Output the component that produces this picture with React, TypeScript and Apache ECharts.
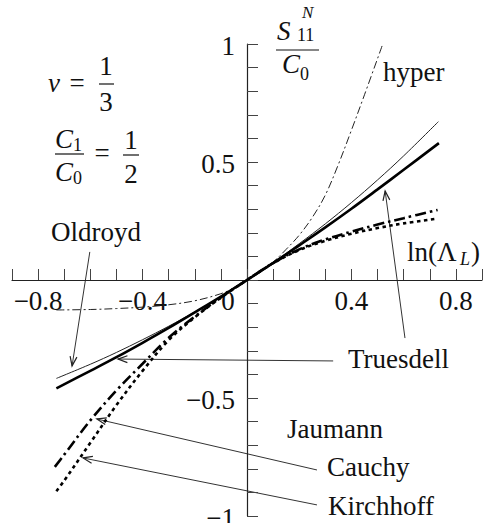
import React, { useEffect, useRef } from 'react';
import * as echarts from 'echarts';

const FONT = '"Liberation Serif", "Times New Roman", serif';
const INK = '#111';

// Axis tick labels
const xTickValues = [-0.8, -0.4, 0, 0.4, 0.8];
const xTickLabels = ['−0.8', '−0.4', '0', '0.4', '0.8'];
const yTickValues = [-1, -0.5, 0.5, 1];
const yTickLabels = ['−1', '−0.5', '0.5', '1'];

// Oldroyd rate (thin solid)
const oldroydX = [-0.73, -0.6, -0.5, -0.4, -0.3, -0.2, -0.1, 0, 0.1, 0.2, 0.3, 0.4, 0.5, 0.6, 0.733];
const oldroydY = [-0.417, -0.357, -0.307, -0.253, -0.196, -0.135, -0.07, 0, 0.074, 0.154, 0.238, 0.328, 0.424, 0.526, 0.671];

// Truesdell rate (thick solid)
const truesdellX = [-0.73, -0.6, -0.5, -0.4, -0.3, -0.2, -0.1, 0, 0.1, 0.2, 0.3, 0.4, 0.5, 0.6, 0.735];
const truesdellY = [-0.459, -0.385, -0.327, -0.266, -0.203, -0.137, -0.07, 0, 0.072, 0.147, 0.223, 0.302, 0.384, 0.467, 0.58];

// Hyperelastic reference (thin dash-dot)
const hyperX = [-0.73, -0.6, -0.5, -0.4, -0.3, -0.2, -0.1, -0.05, 0, 0.05, 0.1, 0.15, 0.2, 0.25, 0.3, 0.35, 0.4, 0.45, 0.52];
const hyperY = [-0.127, -0.125, -0.121, -0.115, -0.105, -0.088, -0.058, -0.033, 0, 0.037, 0.076, 0.13, 0.19, 0.265, 0.36, 0.49, 0.635, 0.785, 1.0];

// Cauchy stress (thick dash-dot)
const cauchyX = [-0.736, -0.7, -0.6, -0.5, -0.4, -0.3, -0.2, -0.1, 0, 0.1, 0.2, 0.3, 0.4, 0.5, 0.6, 0.73];
const cauchyY = [-0.792, -0.74, -0.595, -0.468, -0.355, -0.245, -0.155, -0.074, 0, 0.072, 0.13, 0.172, 0.205, 0.235, 0.262, 0.297];

// Kirchhoff stress (thick dotted)
const kirchhoffX = [-0.73, -0.7, -0.6, -0.5, -0.4, -0.3, -0.2, -0.1, 0, 0.1, 0.2, 0.3, 0.4, 0.5, 0.6, 0.73];
const kirchhoffY = [-0.895, -0.85, -0.69, -0.53, -0.385, -0.255, -0.158, -0.075, 0, 0.071, 0.127, 0.166, 0.196, 0.22, 0.24, 0.26];

// Annotation arrows: [tail, head] in data coordinates
const arrowNames = ['Oldroyd', 'Truesdell', 'Truesdell', 'Cauchy', 'Kirchhoff'];
const arrowTails = [[-0.602, 0.119], [0.605, -0.246], [0.33, -0.343], [0.268, -0.805], [0.268, -0.953]];
const arrowHeads = [[-0.67, -0.364], [0.529, 0.377], [-0.494, -0.335], [-0.575, -0.589], [-0.628, -0.754]];

const pairs = (xs: number[], ys: number[]) => xs.map((x, i) => [x, ys[i]]);

function txt(x: number, y: number, text: string, size = 27, italic = false, align = 'left') {
  return {
    type: 'text',
    x,
    y,
    silent: true,
    style: {
      text,
      fill: INK,
      fontSize: size,
      fontFamily: FONT,
      fontStyle: italic ? 'italic' : 'normal',
      textAlign: align,
      textVerticalAlign: 'middle',
      align,
      verticalAlign: 'middle',
    },
  };
}

function bar(x1: number, x2: number, y: number) {
  return {
    type: 'line',
    silent: true,
    shape: { x1, y1: y, x2, y2: y },
    style: { stroke: INK, lineWidth: 1.2 },
  };
}

export default function App() {
  const ref = useRef<HTMLDivElement>(null);

  useEffect(() => {
    if (!ref.current) return;
    const chart = echarts.init(ref.current, undefined, { renderer: 'svg' });

    const line = (name: string, xs: number[], ys: number[], width: number, type: any, color = '#000') => ({
      name,
      type: 'line',
      data: pairs(xs, ys),
      showSymbol: false,
      smooth: 0.35,
      lineStyle: { color, width, type, cap: 'butt' },
      z: 3,
    });

    const axisCommon = {
      type: 'value',
      interval: 0.1,
      splitLine: { show: false },
      axisLine: { onZero: true, lineStyle: { color: '#222', width: 1.2 } },
      axisTick: { inside: true, length: 11, lineStyle: { color: '#444', width: 1 } },
      axisLabel: { show: false },
    };

    chart.setOption({
      animation: false,
      grid: { left: 12, right: 3, top: 44, bottom: 7, containLabel: false, outerBoundsMode: 'none' },
      xAxis: { ...axisCommon, min: -0.9, max: 0.9 },
      yAxis: { ...axisCommon, min: -1, max: 1 },
      series: [
        line('hyper', hyperX, hyperY, 1, [8, 3, 2, 3], '#222'),
        line('Oldroyd', oldroydX, oldroydY, 1, 'solid', '#222'),
        line('Truesdell', truesdellX, truesdellY, 2.6, 'solid'),
        line('Cauchy', cauchyX, cauchyY, 2.6, [11, 4, 2.5, 4]),
        line('Kirchhoff', kirchhoffX, kirchhoffY, 2.6, [3.5, 3.5]),
      ],
    });

    const toPx = (p: number[]) => chart.convertToPixel({ gridIndex: 0 }, p) as number[];

    // tick labels placed on the axes that cross at the origin
    const tickTexts: any[] = [];
    xTickValues.forEach((v, i) => {
      const p = toPx([v, 0]);
      tickTexts.push(txt(p[0] + (v === 0 ? -19 : 0), p[1] + 21, xTickLabels[i], 27, false, 'center'));
    });
    yTickValues.forEach((v, i) => {
      const p = toPx([0, v]);
      tickTexts.push(txt(p[0] - 12, p[1] + 2, yTickLabels[i], 27, false, 'right'));
    });

    const arrows: any[] = [];
    arrowNames.forEach((_, i) => {
      const a = toPx(arrowTails[i]);
      const b = toPx(arrowHeads[i]);
      const ang = Math.atan2(b[1] - a[1], b[0] - a[0]);
      const L = 10;
      const spread = 0.35;
      const p1 = [b[0] - L * Math.cos(ang - spread), b[1] - L * Math.sin(ang - spread)];
      const p2 = [b[0] - L * Math.cos(ang + spread), b[1] - L * Math.sin(ang + spread)];
      arrows.push({
        type: 'line',
        silent: true,
        shape: { x1: a[0], y1: a[1], x2: b[0], y2: b[1] },
        style: { stroke: '#333', lineWidth: 1 },
      });
      arrows.push({
        type: 'polyline',
        silent: true,
        shape: { points: [p1, b, p2] },
        style: { stroke: '#222', lineWidth: 1.2, fill: null },
      });
    });

    const labels: any[] = [
      // curve names
      txt(383, 72, 'hyper'),
      txt(96, 232, 'Oldroyd', 27, false, 'center'),
      txt(348, 359, 'Truesdell'),
      txt(287, 429, 'Jaumann'),
      txt(327, 467, 'Cauchy'),
      txt(328, 506, 'Kirchhoff'),
      // horizontal axis name ln(Λ_L)
      txt(407, 252, 'ln(Λ'),
      txt(460, 259, 'L', 18, true),
      txt(471, 252, ')'),
      // vertical axis name S^N_11 / C_0
      txt(277, 31, 'S', 27, true),
      txt(302, 12, 'N', 17, true),
      txt(297, 35, '11', 18),
      bar(276, 319, 50),
      txt(282, 64, 'C', 27, true),
      txt(300, 74, '0', 18),
      // ν = 1/3
      txt(48, 83, 'ν', 27, true),
      txt(77, 83, '=', 27, false, 'center'),
      txt(106, 66, '1', 27, false, 'center'),
      bar(99, 114, 84),
      txt(106, 102, '3', 27, false, 'center'),
      // C_1 / C_0 = 1/2
      txt(55, 139, 'C', 27, true),
      txt(73, 145, '1', 18),
      bar(55, 84, 154),
      txt(55, 172, 'C', 27, true),
      txt(73, 178, '0', 18),
      txt(102, 153, '=', 27, false, 'center'),
      txt(131, 140, '1', 27, false, 'center'),
      bar(123, 139, 155),
      txt(131, 174, '2', 27, false, 'center'),
    ];

    chart.setOption({ graphic: [...tickTexts, ...arrows, ...labels] });

    return () => chart.dispose();
  }, []);

  return <div ref={ref} style={{ position: 'fixed', left: 0, top: 0, width: 485, height: 523, background: '#fff' }} />;
}
